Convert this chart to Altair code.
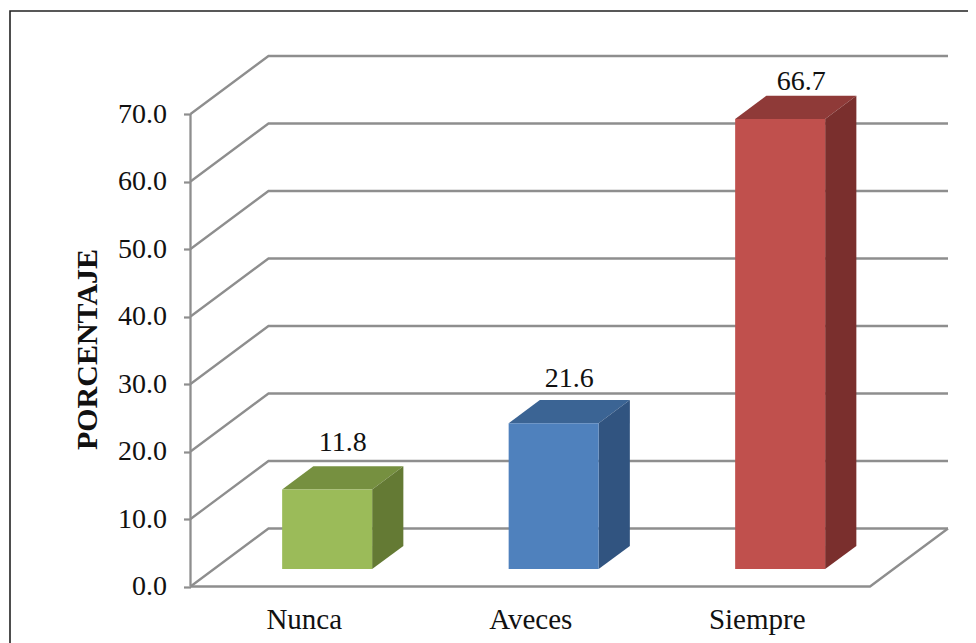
import altair as alt
import pandas as pd

CATEGORIES = ["Nunca", "Aveces", "Siempre"]
VALUES = [11.8, 21.6, 66.7]
FRONT = ["#9BBB59", "#4F81BD", "#C0504D"]
TOPS = ["#769040", "#3B6494", "#8F3A38"]
SIDES = ["#647A34", "#315480", "#7A2F2D"]
LABEL_LIFT = [2.2, 1.9, 0.8]
LABEL_SHIFT = [0, 0, 0.024]
GRID_VALUES = [0, 10, 20, 30, 40, 50, 60, 70]

PX_PER_CAT = 226.5
PX_PER_VAL = 6.75
DEPTH_X = 78 / PX_PER_CAT
DEPTH_Y = 58 / PX_PER_VAL
N = len(CATEGORIES)
BAR_W = 90 / PX_PER_CAT
BAR_NEAR = 0.3
BAR_FAR = 0.7
FONT = "Liberation Serif"
GRAY = "#8e8e8e"

x_dom = [0, N + DEPTH_X]
y_dom = [0, GRID_VALUES[-1] + DEPTH_Y]
xs = alt.Scale(domain=x_dom, nice=False, zero=False)
ys = alt.Scale(domain=y_dom, nice=False, zero=False)
W = x_dom[1] * PX_PER_CAT
H = y_dom[1] * PX_PER_VAL

# wall and floor lines
lines = []
for v in GRID_VALUES:
    lines += [dict(g=f"s{v}", x=0, y=v, o=0), dict(g=f"s{v}", x=DEPTH_X, y=v + DEPTH_Y, o=1),
              dict(g=f"s{v}", x=N + DEPTH_X, y=v + DEPTH_Y, o=2)]
lines += [dict(g="floor", x=0, y=0, o=0), dict(g="floor", x=N, y=0, o=1),
          dict(g="floor", x=N + DEPTH_X, y=DEPTH_Y, o=2)]
lines += [dict(g="axis", x=0, y=0, o=0), dict(g="axis", x=0, y=GRID_VALUES[-1], o=1)]

y_axis = alt.Axis(values=GRID_VALUES, format=".1f", domain=False, grid=False, tickColor=GRAY,
                  tickSize=7, tickWidth=2.2, labelFont=FONT, labelFontSize=28, labelColor="#111111",
                  labelPadding=17, title="PORCENTAJE", titleFont=FONT, titleFontSize=30,
                  titleFontWeight="bold", titleColor="#111111", titleX=-88, titleY=293)
x_axis = alt.Axis(values=[i + 0.5 for i in range(N)], domain=False, grid=False, ticks=False,
                  labelExpr="['" + "','".join(CATEGORIES) + "'][floor(datum.value)]",
                  labelFont=FONT, labelFontSize=29, labelColor="#111111", labelPadding=19, title=None)

base_lines = alt.Chart(pd.DataFrame(lines)).mark_line(color=GRAY, strokeWidth=2.3, strokeJoin="miter").encode(
    x=alt.X("x:Q", scale=xs, axis=x_axis),
    y=alt.Y("y:Q", scale=ys, axis=y_axis),
    detail="g:N", order="o:Q")

# frame, expressed in the data units of the scales
fx = (10 - 190.5) / PX_PER_CAT
fxr = (968 - 190.5) / PX_PER_CAT
fyt = (586.5 - 11) / PX_PER_VAL
fyb = (586.5 - 643) / PX_PER_VAL
frame = alt.Chart(pd.DataFrame([dict(x=fx, y=fyb, o=0), dict(x=fx, y=fyt, o=1), dict(x=fxr, y=fyt, o=2)])
                  ).mark_line(color="#222222", strokeWidth=1.6).encode(
    x=alt.X("x:Q", scale=xs), y=alt.Y("y:Q", scale=ys), order="o:Q")

col = alt.Color("c:N", scale=None, legend=None)
front, tops, sides, labels = [], [], [], []
for i, (name, v) in enumerate(zip(CATEGORIES, VALUES)):
    x0 = i + 0.5 - BAR_W / 2 + BAR_NEAR * DEPTH_X
    x1 = x0 + BAR_W
    y0 = BAR_NEAR * DEPTH_Y
    dxb = (BAR_FAR - BAR_NEAR) * DEPTH_X
    dyb = (BAR_FAR - BAR_NEAR) * DEPTH_Y
    front.append(dict(x=x0, x2=x1, y=y0, y2=y0 + v, c=FRONT[i]))
    tops += [dict(k=name, y=y0 + v, x=x0, x2=x1, c=TOPS[i]),
             dict(k=name, y=y0 + v + dyb, x=x0 + dxb, x2=x1 + dxb, c=TOPS[i])]
    sides += [dict(k=name, x=x1, y=y0, y2=y0 + v, c=SIDES[i]),
              dict(k=name, x=x1 + dxb, y=y0 + dyb, y2=y0 + v + dyb, c=SIDES[i])]
    labels.append(dict(x=(x0 + x1) / 2 + dxb / 2 + LABEL_SHIFT[i], y=y0 + v + dyb + LABEL_LIFT[i], t=f"{v:.1f}"))

front_m = alt.Chart(pd.DataFrame(front)).mark_rect().encode(
    x=alt.X("x:Q", scale=xs), x2="x2:Q", y=alt.Y("y:Q", scale=ys), y2="y2:Q", color=col)
top_m = alt.Chart(pd.DataFrame(tops)).mark_area(orient="horizontal").encode(
    y=alt.Y("y:Q", scale=ys), x=alt.X("x:Q", scale=xs), x2="x2:Q", color=col, detail="k:N")
side_m = alt.Chart(pd.DataFrame(sides)).mark_area(orient="vertical").encode(
    x=alt.X("x:Q", scale=xs), y=alt.Y("y:Q", scale=ys), y2="y2:Q", color=col, detail="k:N")
text_m = alt.Chart(pd.DataFrame(labels)).mark_text(font=FONT, fontSize=28, color="#111111", baseline="alphabetic").encode(
    x=alt.X("x:Q", scale=xs), y=alt.Y("y:Q", scale=ys), text="t:N")

chart = alt.layer(base_lines, frame, top_m, side_m, front_m, text_m).properties(
    width=W, height=H,
    padding={"left": 182.5, "top": 48, "right": 960 - 182.5 - W, "bottom": 635 - 48 - H},
    autosize=alt.AutoSizeParams(type="none"),
    background="white",
).configure_view(stroke=None)

chart.save("out.html", embed_options={"renderer": "svg", "actions": False})
